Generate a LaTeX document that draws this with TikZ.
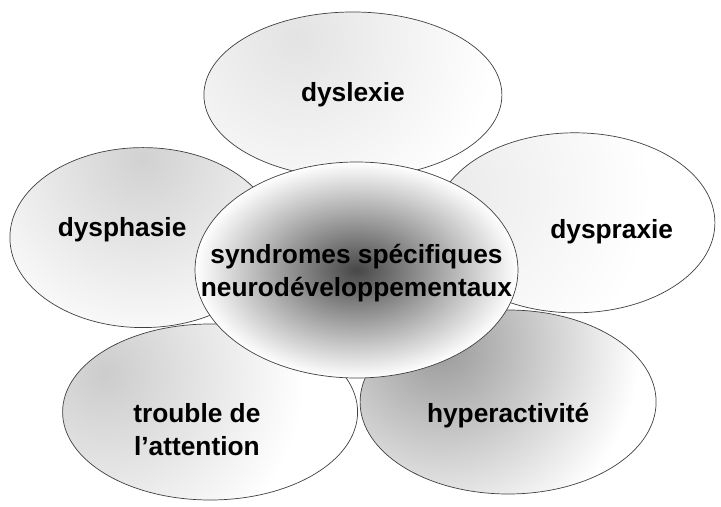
\documentclass[tikz,border=0pt]{standalone}
\usepackage{fontspec}
\setmainfont{Liberation Sans}
\usetikzlibrary{shapes.geometric}
\tikzstyle{petal}=[ellipse,draw=black!75,line width=0.5pt,inner sep=0pt]
\tikzstyle{petal text}=[font=\bfseries\fontsize{18.7}{23.5}\selectfont,align=center,inner sep=0pt]
\tikzstyle{heart}=[petal,inner color=black!72,outer color=white]
\tikzset{glow/.style n args={3}{path picture={
  \fill[white] (path picture bounding box.south west) rectangle (path picture bounding box.north east);
  \shade[inner color=black!#3, outer color=white]
    ([shift={(#1:#2)}]path picture bounding box.center) circle (5cm);
}}}
\newcommand{\petalnode}[4][]{
  \node [petal, #1, label={[petal text, name=#2 text, #4]center:#3}] (#2) {}
}

\begin{document}
\begin{tikzpicture}
  \useasboundingbox (-8.9125,-5.9) rectangle (9.1125,6.75);
  % petals behind the middle
  \petalnode[at={(3.79,-3.3)}, minimum width=7.4cm, minimum height=4.6cm,
    glow={140}{2.2cm}{40}]{hyper}{hyperactivit\'e}{yshift=-0.33cm};
  \petalnode[at={(-3.66,-3.55)}, minimum width=7.375cm, minimum height=4.4cm,
    glow={160}{2.8cm}{20}]{attention}{trouble de\\l'attention}{xshift=-0.33cm, yshift=-0.45cm};
  \petalnode[at={(-0.09,4.375)}, minimum width=7.45cm, minimum height=4.15cm,
    glow={135}{2cm}{11}]{dyslexie}{dyslexie}{};
  \petalnode[at={(-5.34,0.81)}, minimum width=6.65cm, minimum height=4.5cm,
    glow={90}{2cm}{18}]{dysphasie}{dysphasie}{xshift=-0.52cm, yshift=0.19cm};
  \petalnode[at={(5.46,1.18)}, minimum width=7cm, minimum height=4.5cm,
    glow={165}{3.2cm}{8}]{dyspraxie}{dyspraxie}{xshift=0.92cm, yshift=-0.22cm};
  % the middle one
  \node [heart, minimum width=8.075cm, minimum height=5.4cm,
    label={[petal text, name=core text, yshift=-0.08cm]center:syndromes sp\'ecifiques\\neurod\'eveloppementaux}]
    (core) at (0,0) {};
\end{tikzpicture}
\end{document}
